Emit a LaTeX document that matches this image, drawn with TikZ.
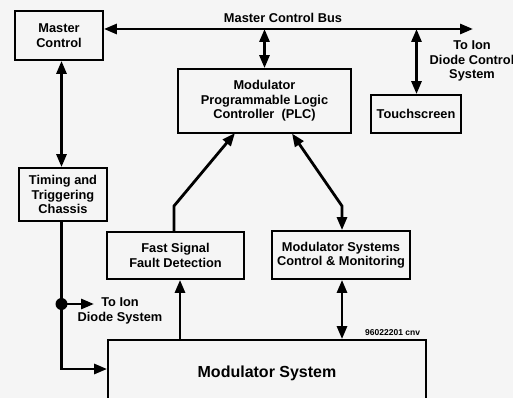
\documentclass[tikz,border=0pt]{standalone}
\usepackage{fontspec}
\setmainfont{Liberation Sans}
\usetikzlibrary{arrows.meta}
\definecolor{paper}{HTML}{F5F5F5}
\tikzset{
  tip/.tip={Triangle[length=13pt,width=10pt]},
  blk/.style={draw=black, line width=1.8pt, inner sep=0pt, align=center,
    font=\bfseries\fontsize{12.8}{14.5}\selectfont},
  flow/.style={line width=2.8pt, -tip},
  flow2/.style={line width=2.8pt, tip-tip},
  plain/.style={line width=2.8pt},
  lbl/.style={align=center, inner sep=0pt, font=\bfseries\fontsize{12.8}{14.5}\selectfont},
}
\begin{document}
\begin{tikzpicture}[x=1pt, y=-1pt]
  % page and background
  \fill[paper] (0,0) rectangle (513,398);
  \useasboundingbox (0,0) rectangle (513,398);

  % blocks
  \node[blk, minimum width=88pt, minimum height=49pt] (mc) at (59,35.5) {Master\\Control};
  \node[blk, minimum width=173pt, minimum height=64pt] (plc) at (264.5,101) {Modulator\\Programmable Logic\\Controller~ (PLC)};
  \node[blk, minimum width=90pt, minimum height=38pt] (touch) at (416,114) {Touchscreen};
  \node[blk, minimum width=88pt, minimum height=53pt] (timing) at (63,194.5) {Timing and\\Triggering\\Chassis};
  \node[blk, minimum width=137pt, minimum height=47pt] (fast) at (175.5,255.5) {Fast Signal\\Fault Detection};
  \node[blk, minimum width=138pt, minimum height=48pt] (msc) at (341,255) {Modulator Systems\\Control \& Monitoring};
  \node[blk, minimum width=318pt, minimum height=66pt, font=\bfseries\fontsize{16}{18}\selectfont] (modsys) at (267,373) {Modulator System};

  % master control bus
  \coordinate (busR) at (473,29);
  \draw[flow2] (mc.east |- busR) -- (busR);
  \node[lbl] (buslbl) at (283,18) {Master Control Bus};
  \node[lbl] (iondc) at (472,61) {To Ion\\Diode Control\\System};

  % bus taps
  \draw[flow2] (plc.north) -- (plc.north |- busR);
  \draw[flow2] ([xshift=0.5pt]touch.north) -- ([xshift=0.5pt]touch.north |- busR);

  % master control to timing chassis
  \coordinate (tx) at (61.5,0);
  \draw[flow2] (mc.south -| tx) -- (timing.north -| tx);

  % timing chassis down to modulator system, with branch to ion diode
  \coordinate (tj) at (61.5,304);
  \coordinate (tc) at (61.5,369);
  \draw[plain, line join=miter] (timing.south -| tx) -- (tc);
  \draw[flow] ([xshift=-1.4pt]tc) -- (modsys.west |- tc);
  \fill (tj) circle (6pt);
  \coordinate (tjr) at (94,304);
  \draw[flow] (tj) -- (tjr);
  \node[lbl] (iond) at (120,311) {To Ion\\Diode System};

  % fault detection path
  \coordinate (fs) at (180,0);
  \draw[flow] (modsys.north -| fs) -- (fast.south -| fs);
  \coordinate (fk) at (174,206);
  \coordinate (pl) at (235,133);
  \draw[flow, line join=miter] (fast.north -| fk) -- (fk) -- (pl);

  % PLC to systems control
  \coordinate (pr) at (292,133.5);
  \coordinate (mk) at (342,206);
  \draw[flow2, line join=miter] (pr) -- (mk) -- (msc.north -| mk);
  \draw[flow2] (msc.south -| mk) -- (modsys.north -| mk);

  % drawing number
  \node[inner sep=0pt, anchor=west, font=\bfseries\fontsize{8.5}{9}\selectfont] (dwg) at (365,333) {96022201 cnv};
\end{tikzpicture}
\end{document}
